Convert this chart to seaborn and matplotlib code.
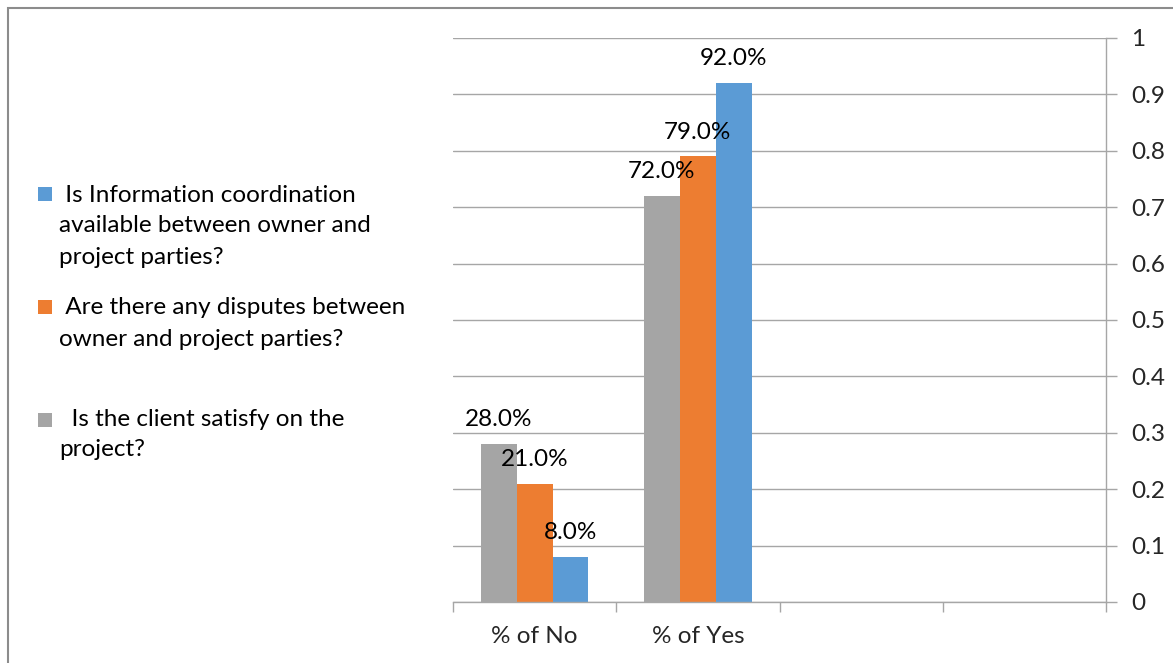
import matplotlib
matplotlib.use("Agg")
import matplotlib.pyplot as plt
import seaborn as sns
import pandas as pd
import numpy as np
from matplotlib.patches import Rectangle

# ---- data ----
categories = ["% of No", "% of Yes"]
empty_slots = [" ", "  "]
series = [
    "Is the client satisfy on the project?",
    "Are there any disputes between owner and project parties?",
    "Is Information coordination available between owner and project parties?",
]
client_values = [0.28, 0.72]
dispute_values = [0.21, 0.79]
info_values = [0.08, 0.92]
colors = ["#A5A5A5", "#ED7D31", "#5B9BD5"]
ytick_values = [0, 0.1, 0.2, 0.3, 0.4, 0.5, 0.6, 0.7, 0.8, 0.9, 1]
ytick_labels = ["0", "0.1", "0.2", "0.3", "0.4", "0.5", "0.6", "0.7", "0.8", "0.9", "1"]
legend_lines = [
    [" Is Information coordination", "available between owner and", "project parties?"],
    [" Are there any disputes between", "owner and project parties?"],
    ["  Is the client satisfy on the", "project?"],
]

rows = []
for s, vals in zip(series, [client_values, dispute_values, info_values]):
    for c, v in zip(categories, vals):
        rows.append({"cat": c, "series": s, "value": v})
df = pd.DataFrame(rows)

sns.set_theme(style="white")
plt.rcParams["font.family"] = ["Lato", "DejaVu Sans"]
FS = 17.5

W, H = 1173, 663
fig = plt.figure(figsize=(W / 100, H / 100), dpi=100)
ax = fig.add_axes([453 / W, 1 - 602 / H, (1106 - 453) / W, (602 - 38) / H])

sns.barplot(data=df, x="cat", y="value", hue="series", order=categories + empty_slots,
            hue_order=series, palette=colors, width=0.66, gap=0, ax=ax,
            saturation=1, legend=False, edgecolor="none", linewidth=0)

for cont in ax.containers:
    vals = [b.get_height() for b in cont]
    ax.bar_label(cont, labels=[f"{v*100:.1f}%" for v in vals], padding=10,
                 fontsize=FS, color="black")

ax.set_ylim(0, 1)
ax.set_xlim(-0.5, 3.5)
ax.set_yticks(ytick_values)
ax.set_yticklabels(ytick_labels, fontsize=FS)
ax.yaxis.tick_right()
ax.tick_params(axis="y", which="major", direction="out", length=8, width=1,
               color="#A6A6A6", pad=10, right=True, left=False)
for lbl in ax.get_yticklabels():
    lbl.set_horizontalalignment("left")

ax.set_xticks([0, 1, 2, 3])
ax.set_xticklabels(categories + ["", ""], fontsize=FS)
ax.tick_params(axis="x", which="major", length=0, pad=17)
ax.set_xticks([-0.5, 0.5, 1.5, 2.5, 3.5], minor=True)
ax.tick_params(axis="x", which="minor", direction="out", length=7, width=1,
               color="#A6A6A6", bottom=True)

ax.grid(axis="y", color="#A6A6A6", linewidth=1)
ax.grid(axis="x", visible=False)
ax.set_axisbelow(True)
for side in ["left", "top"]:
    ax.spines[side].set_visible(False)
for side in ["right", "bottom"]:
    ax.spines[side].set_color("#A6A6A6")
    ax.spines[side].set_linewidth(1)
ax.set_xlabel("")
ax.set_ylabel("")

# legend on the left (manual layout to match reference)
legend_colors = [colors[2], colors[1], colors[0]]
marker_y = [194, 307, 419.5]
line_y = [[195, 226, 258], [307, 339], [419, 449]]
for col, my, lines, ys in zip(legend_colors, marker_y, legend_lines, line_y):
    fig.patches.append(Rectangle((38 / W, 1 - (my + 7) / H), 14 / W, 14 / H,
                                 transform=fig.transFigure, facecolor=col,
                                 edgecolor="none"))
    for t, y in zip(lines, ys):
        fig.text(59 / W, 1 - y / H, t, fontsize=FS, va="center", ha="left",
                 color="black")

# figure border
fig.patches.append(Rectangle((8 / W, -0.2), 1.5, 1.2 - 8 / H, transform=fig.transFigure,
                             fill=False, edgecolor="#8C8C8C", linewidth=1.5,
                             clip_on=False))

fig.savefig("out.png", dpi=100)
